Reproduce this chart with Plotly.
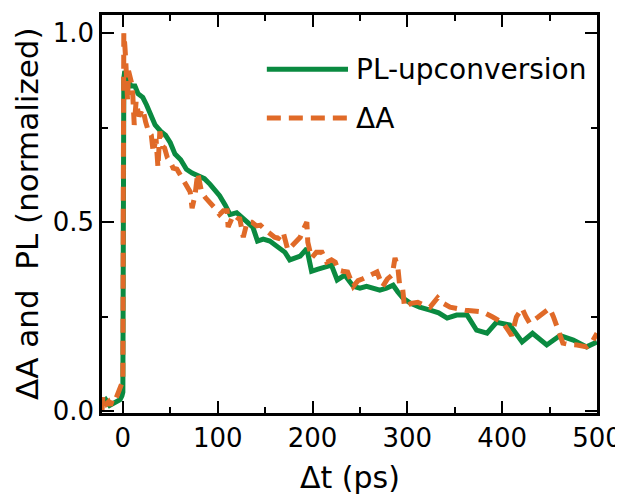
import plotly.graph_objects as go

# PL-upconversion (green, solid)
pl_t = [-22, -18, -14, -10, -6, -3, -1, 0, 1, 2, 3, 6, 9, 12.7, 16, 21, 25, 30, 34, 40, 45, 50, 55,
        61, 67, 73, 80, 86, 92, 97, 102, 108, 113, 120, 126, 131, 137, 142, 148, 155, 160, 166,
        171, 176, 182, 187, 194, 199, 205, 211, 220, 226, 234, 243, 250, 257, 264, 271, 278,
        285, 290, 295, 303, 313, 324, 333, 342, 352, 363, 373, 384, 394, 408, 421, 432, 447,
        461, 475, 489, 500]
pl_v = [0.02, 0.03, 0.015, 0.02, 0.025, 0.03, 0.04, 0.05, 0.88, 0.90, 0.89, 0.87, 0.86, 0.86, 0.84,
        0.83, 0.81, 0.78, 0.757, 0.74, 0.73, 0.71, 0.68, 0.665, 0.64, 0.63, 0.62, 0.615, 0.60,
        0.585, 0.57, 0.545, 0.52, 0.525, 0.51, 0.50, 0.487, 0.45, 0.455, 0.45, 0.44, 0.43,
        0.42, 0.40, 0.405, 0.41, 0.43, 0.37, 0.375, 0.38, 0.386, 0.347, 0.36, 0.33, 0.325,
        0.33, 0.325, 0.32, 0.325, 0.333, 0.315, 0.30, 0.286, 0.275, 0.267, 0.26, 0.246,
        0.254, 0.254, 0.214, 0.206, 0.235, 0.228, 0.183, 0.206, 0.175, 0.20, 0.188, 0.17,
        0.183]

# Delta A (orange, dashed)
da_t = [-22, -21, -19, -17, -15, -13, -11, -9, -7, -5, -3, -1, 0, 0.5, 1, 2, 3, 4, 5, 6, 8, 10,
        12, 14, 17, 21, 24, 27, 30, 32, 35, 37, 39, 42, 44, 47, 50, 53, 57, 62, 66, 71, 73, 76,
        79, 83, 87, 92, 96, 102, 106, 110, 111, 115, 119, 123, 127, 131, 136, 141, 145, 150,
        155, 160, 164, 169, 174, 179, 183, 187, 190, 194, 195, 199, 204, 210, 215, 220, 224,
        227, 232, 237, 243, 248, 253, 257, 263, 268, 274, 279, 284, 287, 290, 292, 295, 297,
        304, 311, 318, 324, 332, 338, 345, 353, 361, 370, 380, 390, 396, 401, 406, 410, 415,
        421, 425, 429, 438, 444, 450, 454, 458, 464, 471, 479, 489, 494, 500]
da_v = [0.0, 0.04, 0.035, 0.02, 0.025, 0.015, 0.03, 0.04, 0.035, 0.05, 0.055, 0.07, 0.08, 0.6,
        1.0, 0.97, 0.93, 0.89, 0.82, 0.90, 0.87, 0.86, 0.757, 0.82, 0.78, 0.80, 0.765, 0.74,
        0.73, 0.685, 0.72, 0.645, 0.74, 0.70, 0.696, 0.67, 0.66, 0.643, 0.64, 0.616, 0.60,
        0.58, 0.537, 0.57, 0.63, 0.58, 0.565, 0.553, 0.54, 0.52, 0.53, 0.53, 0.487, 0.51,
        0.50, 0.513, 0.46, 0.50, 0.50, 0.49, 0.492, 0.48, 0.47, 0.46, 0.457, 0.474, 0.426,
        0.44, 0.447, 0.46, 0.479, 0.50, 0.447, 0.405, 0.42, 0.42, 0.394, 0.40, 0.394, 0.373,
        0.37, 0.368, 0.33, 0.345, 0.35, 0.354, 0.36, 0.368, 0.33, 0.35, 0.36, 0.405, 0.38,
        0.33, 0.325, 0.275, 0.285, 0.288, 0.28, 0.275, 0.30, 0.285, 0.275, 0.27, 0.267,
        0.265, 0.262, 0.249, 0.24, 0.233, 0.215, 0.20, 0.249, 0.272, 0.25, 0.233, 0.249,
        0.26, 0.272, 0.25, 0.222, 0.18, 0.176, 0.175, 0.17, 0.18, 0.206]

series_names = ["PL-upconversion", "\u0394A"]
x_ticks = [0, 100, 200, 300, 400, 500]
y_ticks = [0.0, 0.5, 1.0]
x_title = "\u0394t (ps)"
y_title = "\u0394A and\u00a0 PL (normalized)"

GREEN = "#0a8a40"
ORANGE = "#e06a28"
FONT = "DejaVu Sans, sans-serif"

fig = go.Figure()
fig.add_trace(go.Scatter(x=pl_t, y=pl_v, mode="lines", name=series_names[0],
                         line=dict(color=GREEN, width=5), showlegend=False))
fig.add_trace(go.Scatter(x=da_t, y=da_v, mode="lines", name=series_names[1],
                         line=dict(color=ORANGE, width=5, dash="14px,8px"), showlegend=False))

# manual legend
legend_rows = [(0.864, GREEN, "solid"), (0.741, ORANGE, "14px,8px")]
for (py, col, dash), name in zip(legend_rows, series_names):
    fig.add_shape(type="line", xref="paper", yref="paper", x0=0.333, x1=0.497, y0=py, y1=py,
                  line=dict(color=col, width=5, dash=dash))
    fig.add_annotation(xref="paper", yref="paper", x=0.51, y=py, text=name, showarrow=False,
                       xanchor="left", yanchor="middle", font=dict(size=28, color="black", family=FONT))

# axis titles
fig.add_annotation(xref="paper", yref="paper", x=0.5, y=-0.163, text=x_title, showarrow=False,
                   xanchor="center", yanchor="middle", font=dict(size=30, color="black", family=FONT))
fig.add_annotation(xref="paper", yref="paper", x=-0.1515, y=0.5, text=y_title, showarrow=False,
                   textangle=-90, xanchor="center", yanchor="middle",
                   font=dict(size=31, color="black", family=FONT))

axis_common = dict(showline=True, linecolor="black", linewidth=2.5, mirror="allticks",
                   ticks="inside", ticklen=12, tickwidth=2, tickcolor="black",
                   showgrid=False, zeroline=False, automargin=False,
                   tickfont=dict(size=26, color="black", family=FONT))

fig.update_xaxes(range=[-22, 500], tickvals=x_ticks,
                 minor=dict(ticks="inside", ticklen=6, tickwidth=2, tickcolor="black", dtick=50, tick0=0),
                 **axis_common)
fig.update_yaxes(range=[-0.005, 1.048], tickvals=y_ticks, tickformat=".1f",
                 minor=dict(ticks="inside", ticklen=6, tickwidth=2, tickcolor="black", dtick=0.25, tick0=0),
                 **axis_common)

fig.update_layout(width=615, height=490, margin=dict(l=94, r=26, t=7, b=85),
                  plot_bgcolor="white", paper_bgcolor="white", font=dict(family=FONT))

fig.write_html("out.html")
